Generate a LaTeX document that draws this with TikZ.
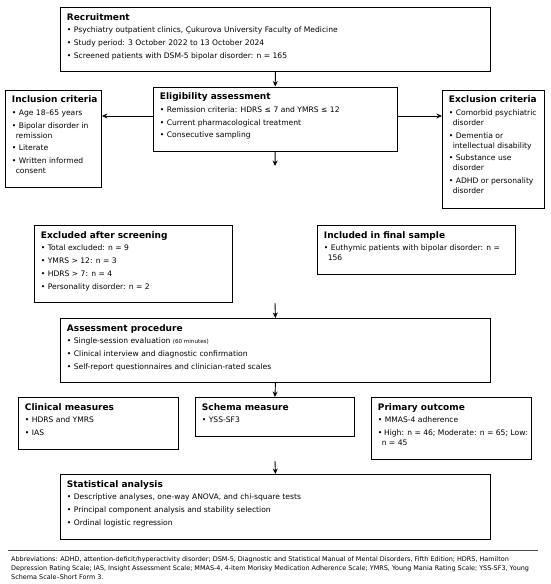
\documentclass[tikz,border=0pt]{standalone}
\usepackage{fontspec}
\setmainfont{DejaVu Sans}
\usetikzlibrary{arrows.meta,calc}
\newcommand\bxc[4]{% width height title body
\begin{minipage}[t][#2pt][t]{#1pt}\raggedright\hbadness=10000 \hfuzz=50pt
{\fontsize{9}{10}\selectfont\bfseries\mbox{#3}\par}
{\fontsize{7.6}{10}\selectfont\setlength{\parskip}{2.7pt}#4\par}
\end{minipage}}
\newcommand\itm[1]{\par\hangindent=3.8pt\hangafter=1 \textbullet~#1}
\begin{document}
\begin{tikzpicture}[x=1pt,y=-1pt,
  boxn/.style={draw, line width=0.9pt, anchor=north west, inner xsep=6.5pt, inner ysep=6pt},
  arr/.style={-{Stealth[length=5.5pt,width=5pt]}, line width=0.9pt}]
\useasboundingbox (0,0) rectangle (550,584);
\node[boxn] (rec) at (60,7) {\bxc{417}{52}{Recruitment}{%
\itm{Psychiatry outpatient clinics, Çukurova University Faculty of Medicine}
\itm{Study period: 3 October 2022 to 13 October 2024}
\itm{Screened patients with DSM-5 bipolar disorder: n = 165}}};
\node[boxn] (elig) at (153,86.5) {\bxc{230.5}{52.5}{Eligibility assessment}{%
\itm{Remission criteria: HDRS ≤ 7 and YMRS ≤ 12}
\itm{Current pharmacological treatment}
\itm{Consecutive sampling}}};
\node[boxn] (incl) at (5,89.5) {\bxc{83}{85.5}{Inclusion criteria}{%
\itm{Age 18–65 years}
\itm{\mbox{Bipolar disorder in}\newline remission}
\itm{Literate}
\itm{\mbox{Written informed}\newline consent}}};
\node[boxn] (excl) at (442,89.5) {\bxc{89}{106.5}{Exclusion criteria}{%
\itm{\mbox{Comorbid psychiatric}\newline disorder}
\itm{\mbox{Dementia or}\newline \mbox{intellectual disability}}
\itm{\mbox{Substance use}\newline disorder}
\itm{\mbox{ADHD or personality}\newline disorder}}};
\node[boxn] (exs) at (34,225) {\bxc{185}{65}{Excluded after screening}{%
\itm{Total excluded: n = 9}
\itm{YMRS > 12: n = 3}
\itm{HDRS > 7: n = 4}
\itm{Personality disorder: n = 2}}};
\node[boxn] (ins) at (317,225) {\bxc{185}{37}{Included in final sample}{%
\itm{\mbox{Euthymic patients with bipolar disorder: n =}\newline 156}}};
\node[boxn] (asp) at (60,318) {\bxc{417}{52}{Assessment procedure}{%
\itm{Single-session evaluation \raisebox{0.8pt}{\fontsize{5.6}{6}\selectfont(60 minutes)}}
\itm{Clinical interview and diagnostic confirmation}
\itm{Self-report questionnaires and clinician-rated scales}}};
\node[boxn] (clin) at (18,397) {\bxc{147}{40}{Clinical measures}{%
\itm{HDRS and YMRS}
\itm{IAS}}};
\node[boxn] (sch) at (195,397) {\bxc{146}{27}{Schema measure}{%
\itm{YSS-SF3}}};
\node[boxn] (prim) at (371,397) {\bxc{147}{50}{Primary outcome}{%
\itm{MMAS-4 adherence}
\itm{\mbox{High: n = 46; Moderate: n = 65; Low:}\newline n = 45}}};
\node[boxn] (stat) at (60,474) {\bxc{417}{53}{Statistical analysis}{%
\itm{Descriptive analyses, one-way ANOVA, and chi-square tests}
\itm{Principal component analysis and stability selection}
\itm{Ordinal logistic regression}}};
% free ends
\coordinate (e1) at (275,166);
\coordinate (s2) at (275,303);
\coordinate (s3) at (275,461);
\coordinate (la) at (8,550);
\coordinate (lb) at (538,550);
% arrows
\draw[arr] (rec.south) -- (elig.north);
\draw[arr] (elig.west |- 0,116) -- (incl.east |- 0,116);
\draw[arr] (elig.east |- 0,116) -- (excl.west |- 0,116);
\draw[arr] (elig.south) -- (e1);
\draw[arr] (s2) -- (asp.north);
\draw[arr] (asp.south) -- (sch.north);
\draw[arr] (s3) -- (stat.north);
\draw[line width=0.6pt, black!70] (la) -- (lb);
\node[anchor=north west, inner sep=0pt, align=left,
  font=\fontsize{6.45}{9.3}\selectfont] (abbr) at (11,556) {Abbreviations: ADHD, attention-deficit/hyperactivity disorder; DSM-5, Diagnostic and Statistical Manual of Mental Disorders, Fifth Edition; HDRS, Hamilton\\ Depression Rating Scale; IAS, Insight Assessment Scale; MMAS-4, 4-item Morisky Medication Adherence Scale; YMRS, Young Mania Rating Scale; YSS-SF3, Young\\ Schema Scale–Short Form 3.};
\end{tikzpicture}
\end{document}
